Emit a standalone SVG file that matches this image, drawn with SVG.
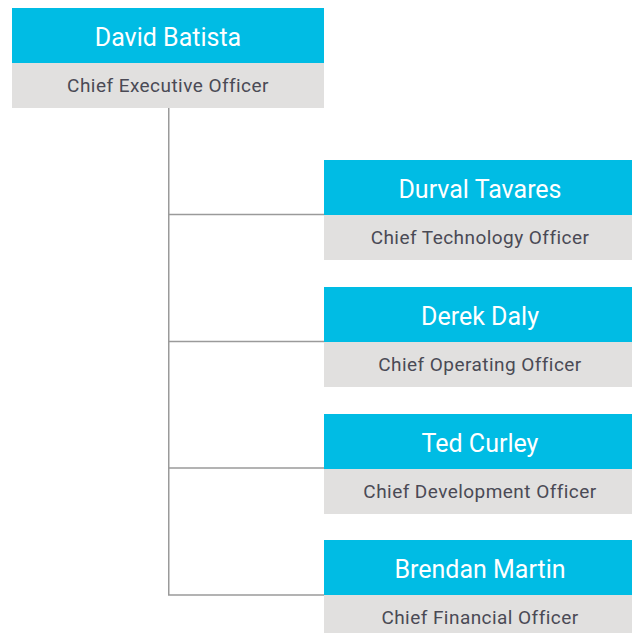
<svg xmlns="http://www.w3.org/2000/svg" width="632" height="633" viewBox="0 0 632 633">
  <style>
    .hd { fill: #00bce4; }
    .sub { fill: #e1e0df; }
    .name { font-family: Roboto, "Liberation Sans", sans-serif; font-size: 25px; fill: #ffffff; text-anchor: middle; }
    .role { font-family: Roboto, "Liberation Sans", sans-serif; font-size: 19px; fill: #4a4a55; text-anchor: middle; letter-spacing: 0.45px; }
    .link { fill: none; stroke: #9a9a9a; stroke-width: 1.5; }
  </style>
  <rect width="632" height="633" fill="#ffffff"/>
  <g id="connectors">
    <path class="link" d="M168.75 108 V595 H324 M168.75 214.5 H324 M168.75 341.5 H324 M168.75 468 H324"/>
  </g>
  <g id="ceo">
    <rect class="hd" x="12" y="8" width="312" height="55"/>
    <rect class="sub" x="12" y="63" width="312" height="45"/>
    <text class="name" x="168" y="46">David Batista</text>
    <text class="role" x="168" y="92">Chief Executive Officer</text>
  </g>
  <g id="cto">
    <rect class="hd" x="324" y="160" width="308" height="55"/>
    <rect class="sub" x="324" y="215" width="308" height="45"/>
    <text class="name" x="480" y="198">Durval Tavares</text>
    <text class="role" x="480" y="244">Chief Technology Officer</text>
  </g>
  <g id="coo">
    <rect class="hd" x="324" y="287" width="308" height="55"/>
    <rect class="sub" x="324" y="342" width="308" height="45"/>
    <text class="name" x="480" y="325">Derek Daly</text>
    <text class="role" x="480" y="371">Chief Operating Officer</text>
  </g>
  <g id="cdo">
    <rect class="hd" x="324" y="414" width="308" height="55"/>
    <rect class="sub" x="324" y="469" width="308" height="45"/>
    <text class="name" x="480" y="452">Ted Curley</text>
    <text class="role" x="480" y="498">Chief Development Officer</text>
  </g>
  <g id="cfo">
    <rect class="hd" x="324" y="540" width="308" height="55"/>
    <rect class="sub" x="324" y="595" width="308" height="38"/>
    <text class="name" x="480" y="578">Brendan Martin</text>
    <text class="role" x="480" y="624">Chief Financial Officer</text>
  </g>
</svg>
